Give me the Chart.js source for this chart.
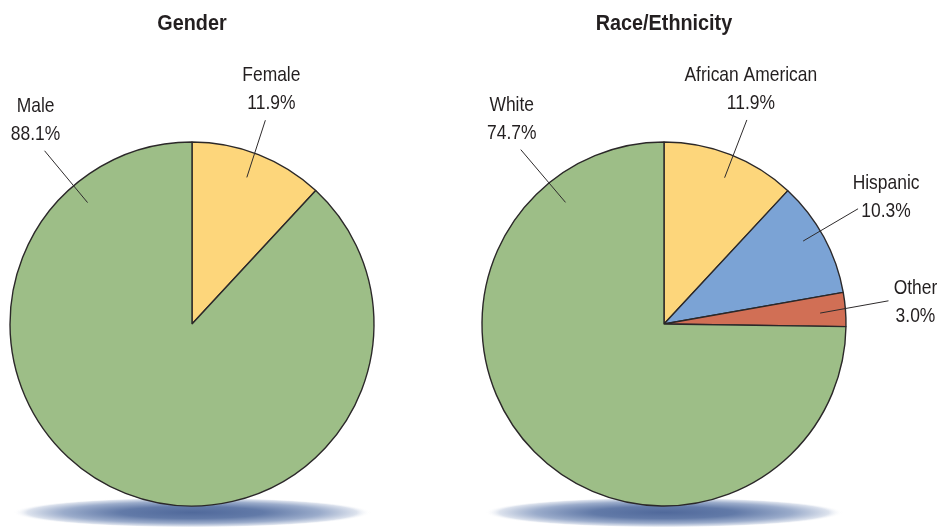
<!DOCTYPE html>
<html>
<head>
<meta charset="utf-8">
<title>Gender and Race/Ethnicity</title>
<script src="https://cdn.jsdelivr.net/npm/chart.js@4.4.1/dist/chart.umd.min.js"></script>
<style>
  html, body { margin: 0; padding: 0; background: #ffffff; }
  #wrap { position: relative; width: 937px; height: 529px; overflow: hidden; }
  .pane { position: absolute; top: 0; height: 529px; }
  #paneLeft { left: 0; width: 468px; }
  #paneRight { left: 468px; width: 469px; }
</style>
</head>
<body>
<div id="wrap">
  <div class="pane" id="paneLeft"><canvas id="genderChart"></canvas></div>
  <div class="pane" id="paneRight"><canvas id="raceChart"></canvas></div>
</div>
<script>
// Shares of the group, in percent
const genderTitle = 'Gender';
const genderLabels = ['Female', 'Male'];
const genderValues = [11.9, 88.1];

const raceTitle = 'Race/Ethnicity';
const raceLabels = ['African American', 'Hispanic', 'Other', 'White'];
const raceValues = [11.9, 10.3, 3.0, 74.7];

// Slice colours
const genderColors = ['#fdd67b', '#9dbe87'];
const raceColors = ['#fdd67b', '#7ba3d5', '#d16f55', '#9dbe87'];

// Leader-line placement per slice: angles in degrees clockwise from 12 o'clock,
// radii as multiples of the pie radius, text block offset from the outer end.
const genderCallouts = [
  { aIn: 20.5, rIn: 0.86, aOut: 19.8, rOut: 1.19, dx: 6, dy: -33 },
  { aIn: -40.7, rIn: 0.88, aOut: -40.4, rOut: 1.25, dx: -9, dy: -32 }
];
const raceCallouts = [
  { aIn: 22.5, rIn: 0.87, aOut: 22.1, rOut: 1.21, dx: 4, dy: -32 },
  { aIn: 59.2, rIn: 0.89, aOut: 59.3, rOut: 1.24, dx: 28, dy: -13 },
  { aIn: 86.0, rIn: 0.86, aOut: 84.1, rOut: 1.24, dx: 27, dy: 0 },
  { aIn: -39.0, rIn: 0.86, aOut: -39.4, rOut: 1.24, dx: -9, dy: -32 }
];

const FONT = '"Liberation Sans", Arial, Helvetica, sans-serif';
const INK = '#231f20';

function polar(cx, cy, deg, r) {
  const t = (deg - 90) * Math.PI / 180;
  return { x: cx + r * Math.cos(t), y: cy + r * Math.sin(t) };
}

// Centered text squeezed horizontally for a condensed face
function condensedText(ctx, text, x, y, squeeze) {
  ctx.save();
  ctx.translate(x, y);
  ctx.scale(squeeze, 1);
  ctx.fillText(text, 0, 0);
  ctx.restore();
}

// Soft blue ground shadow under the pie
const shadowPlugin = {
  id: 'groundShadow',
  beforeDatasetsDraw(chart) {
    const arc = chart.getDatasetMeta(0).data[0];
    if (!arc) return;
    const { x, y, outerRadius } = arc.getProps(['x', 'y', 'outerRadius'], true);
    const ctx = chart.ctx;
    const rx = outerRadius - 3;
    const ry = 15;
    const cy = y + outerRadius + 6.5;
    ctx.save();
    ctx.translate(x, cy);
    ctx.scale(1, ry / rx);
    const g = ctx.createRadialGradient(0, 0, 0, 0, 0, rx);
    g.addColorStop(0, 'rgb(80,105,155)');
    g.addColorStop(0.4, 'rgb(98,122,168)');
    g.addColorStop(0.72, 'rgb(155,172,203)');
    g.addColorStop(0.92, 'rgb(220,226,237)');
    g.addColorStop(1, 'rgba(255,255,255,0)');
    ctx.fillStyle = g;
    ctx.beginPath();
    ctx.arc(0, 0, rx, 0, Math.PI * 2);
    ctx.fill();
    ctx.restore();
  }
};

// Title above the pie and callout labels with leader lines
const calloutPlugin = {
  id: 'callouts',
  afterDatasetsDraw(chart, args, opts) {
    const meta = chart.getDatasetMeta(0);
    const ds = chart.data.datasets[0];
    const ctx = chart.ctx;
    const first = meta.data[0];
    const { x: cx, y: cy, outerRadius: R } = first.getProps(['x', 'y', 'outerRadius'], true);

    ctx.save();
    ctx.fillStyle = INK;
    ctx.textAlign = 'center';
    ctx.textBaseline = 'alphabetic';
    ctx.font = 'bold 22px ' + FONT;
    condensedText(ctx, opts.title, cx, 30, 0.9);

    ctx.font = '21px ' + FONT;
    ctx.strokeStyle = '#2e2b2c';
    ctx.lineWidth = 1;
    meta.data.forEach((arc, i) => {
      const c = opts.callouts[i];
      const pIn = polar(cx, cy, c.aIn, R * c.rIn);
      const pOut = polar(cx, cy, c.aOut, R * c.rOut);
      ctx.beginPath();
      ctx.moveTo(pIn.x, pIn.y);
      ctx.lineTo(pOut.x, pOut.y);
      ctx.stroke();
      const tx = pOut.x + c.dx;
      const ty = pOut.y + c.dy;
      condensedText(ctx, chart.data.labels[i], tx, ty - 14 + 7.5, 0.83);
      condensedText(ctx, ds.data[i].toFixed(1) + '%', tx, ty + 14 + 7.5, 0.83);
    });
    ctx.restore();
  }
};

function makePie(canvasId, labels, values, colors, title, callouts, padding) {
  return new Chart(document.getElementById(canvasId), {
    type: 'pie',
    data: {
      labels: labels,
      datasets: [{
        data: values,
        backgroundColor: colors,
        borderColor: '#2b2829',
        borderWidth: 1.4,
        hoverOffset: 0
      }]
    },
    options: {
      responsive: true,
      maintainAspectRatio: false,
      animation: false,
      radius: 182,
      layout: { padding: padding },
      events: [],
      plugins: {
        legend: { display: false },
        tooltip: { enabled: false },
        title: { display: false },
        callouts: { title: title, callouts: callouts }
      }
    },
    plugins: [shadowPlugin, calloutPlugin]
  });
}

makePie('genderChart', genderLabels, genderValues, genderColors, genderTitle, genderCallouts,
  { left: 10, right: 94, top: 142, bottom: 23 });
makePie('raceChart', raceLabels, raceValues, raceColors, raceTitle, raceCallouts,
  { left: 14, right: 91, top: 142, bottom: 23 });
</script>
</body>
</html>
